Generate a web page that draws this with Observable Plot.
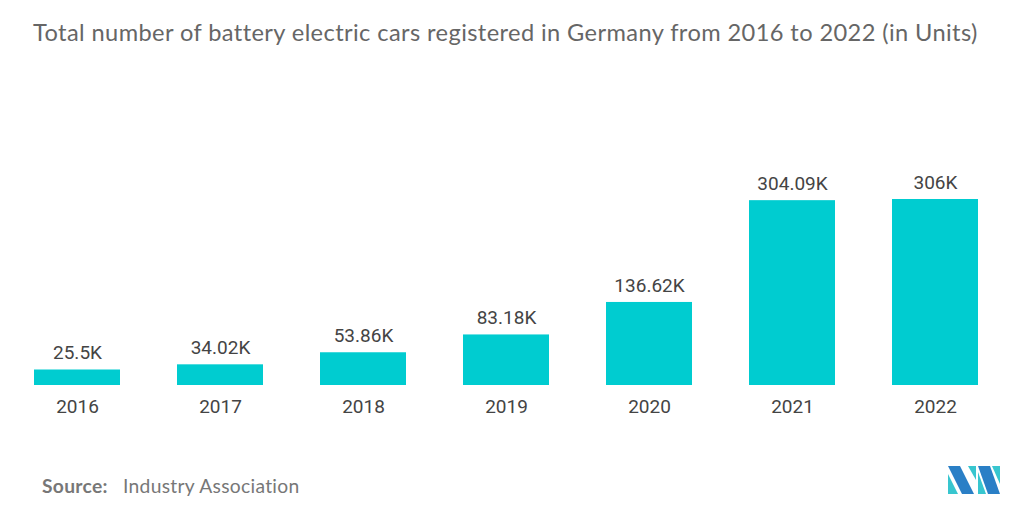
<!DOCTYPE html>
<html>
<head>
<meta charset="utf-8">
<script src="https://cdn.jsdelivr.net/npm/d3@7"></script>
<script src="https://cdn.jsdelivr.net/npm/@observablehq/plot@0.6"></script>
<style>
  html, body { margin: 0; padding: 0; background: #fff; }
  #wrap { position: relative; width: 1024px; height: 516px; overflow: hidden; }
  #title { position: absolute; left: 33px; top: 18px; font-family: Lato, sans-serif; font-size: 22.5px; letter-spacing: 0.4px; color: #666; white-space: nowrap; }
  #chart { position: absolute; left: 0; top: 0; }
  #source { position: absolute; left: 42px; top: 474px; font-family: Lato, sans-serif; font-size: 19px; letter-spacing: 0.3px; color: #777; white-space: nowrap; }
  #source b { font-weight: 700; color: #777; margin-right: 10px; }
  #logo { position: absolute; left: 948px; top: 466px; }
</style>
</head>
<body>
<div id="wrap">
  <div id="chart"></div>
  <div id="title">Total number of battery electric cars registered in Germany from 2016 to 2022 (in Units)</div>
  <div id="source"><b>Source:</b> Industry Association</div>
  <svg id="logo" width="52" height="28" viewBox="0 0 52 28">
    <polygon points="0,0 12,0 26,28 14,28" fill="#2a7fc6"/>
    <polygon points="0,8 10,28 0,28" fill="#38c6cf"/>
    <polygon points="20,0 28,0 28,14" fill="#38c6cf"/>
    <polygon points="30,0 42,0 52,28 40,28" fill="#2a7fc6"/>
    <polygon points="30,6 38,28 30,28" fill="#38c6cf"/>
    <polygon points="44,0 52,0 52,18" fill="#38c6cf"/>
  </svg>
</div>
<script>
const years = ["2016", "2017", "2018", "2019", "2020", "2021", "2022"];
const values = [25.5, 34.02, 53.86, 83.18, 136.62, 304.09, 306];
const labels = ["25.5K", "34.02K", "53.86K", "83.18K", "136.62K", "304.09K", "306K"];

const data = years.map((y, i) => ({year: y, value: values[i], label: labels[i]}));

const chart = Plot.plot({
  width: 1024,
  height: 516,
  marginLeft: 32,
  marginRight: 44,
  marginTop: 199,
  marginBottom: 131,
  style: {background: "transparent", fontFamily: "Roboto, sans-serif"},
  x: {domain: years, paddingInner: 0.4, paddingOuter: 0, label: null, tickSize: 0, tickPadding: 14},
  y: {domain: [0, 306], axis: null},
  marks: [
    Plot.barY(data, {x: "year", y: "value", fill: "#00ccd0"}),
    Plot.text(data, {x: "year", y: "value", text: "label", dy: -17, fill: "#444", fontSize: 19}),
    Plot.axisX({tickSize: 0, tickPadding: 14, fontSize: 19, color: "#444", label: null})
  ]
});
chart.querySelectorAll("g[aria-label='x-axis tick label'] text").forEach(t => t.setAttribute("fill", "#444"));
document.getElementById("chart").appendChild(chart);

// fit title and source widths to the reference extents
function fit(el, target) {
  const fs = parseFloat(getComputedStyle(el).fontSize);
  const w = el.getBoundingClientRect().width;
  el.style.fontSize = (fs * target / w) + "px";
}
fit(document.getElementById("title"), 947);
fit(document.getElementById("source"), 258);
</script>
</body>
</html>
